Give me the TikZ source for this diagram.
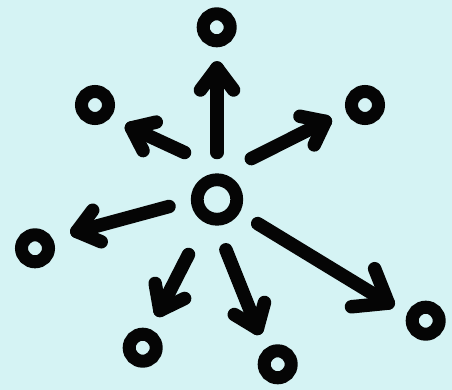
\documentclass[tikz,border=0pt]{standalone}
\usetikzlibrary{calc}
\definecolor{bgc}{RGB}{213,243,244}
\definecolor{ink}{RGB}{5,5,5}
\tikzset{
  ring/.style={circle,draw=ink,line width=13pt,inner sep=0pt,minimum size=27pt},
  hub/.style={circle,draw=ink,line width=12.8pt,inner sep=0pt,minimum size=39.5pt},
  arrowline/.style={draw=ink,line width=13.5pt,line cap=round,line join=round}
}
\newcommand{\arrowshape}[4]{%
  \draw[arrowline] (#1) -- (#2);
  \draw[arrowline] ($(#2)!#3!#4:(#1)$) -- (#2) -- ($(#2)!#3!-#4:(#1)$);
}
\begin{document}
\begin{tikzpicture}[x=1pt,y=-1pt]
\useasboundingbox (0,0) rectangle (452,390);
\fill[bgc] (0,0) rectangle (452,390);
% rings
\node[hub] (c) at (217,199.5) {};
\node[ring] (t) at (216.7,27.3) {};
\node[ring] (ul) at (95,105) {};
\node[ring] (ur) at (365,105) {};
\node[ring] (l) at (35,248.3) {};
\node[ring] (ll) at (142.7,347.7) {};
\node[ring] (lo) at (277.7,364.3) {};
\node[ring] (r) at (425.7,320.7) {};
% arrow coordinates
\coordinate (s1) at (217,152.5);   \coordinate (v1) at (217,68);
\coordinate (s2) at (184.5,152.5); \coordinate (v2) at (131.4,127.9);
\coordinate (s3) at (251.3,158.6); \coordinate (v3) at (325.4,121.4);
\coordinate (s4) at (169,206.5);   \coordinate (v4) at (76.8,231.5);
\coordinate (s5) at (188.5,254.5); \coordinate (v5) at (159.9,310.5);
\coordinate (s6) at (225.9,249.8); \coordinate (v6) at (257.4,328.5);
\coordinate (s7) at (257.7,223.6); \coordinate (v7) at (388.3,303.1);
\arrowshape{s1}{v1}{27.5pt}{37}
\arrowshape{s2}{v2}{25.5pt}{38}
\arrowshape{s3}{v3}{26pt}{38}
\arrowshape{s4}{v4}{26.5pt}{38}
\arrowshape{s5}{v5}{27.5pt}{37}
\arrowshape{s6}{v6}{27pt}{37}
\arrowshape{s7}{v7}{37pt}{37}
\end{tikzpicture}
\end{document}
